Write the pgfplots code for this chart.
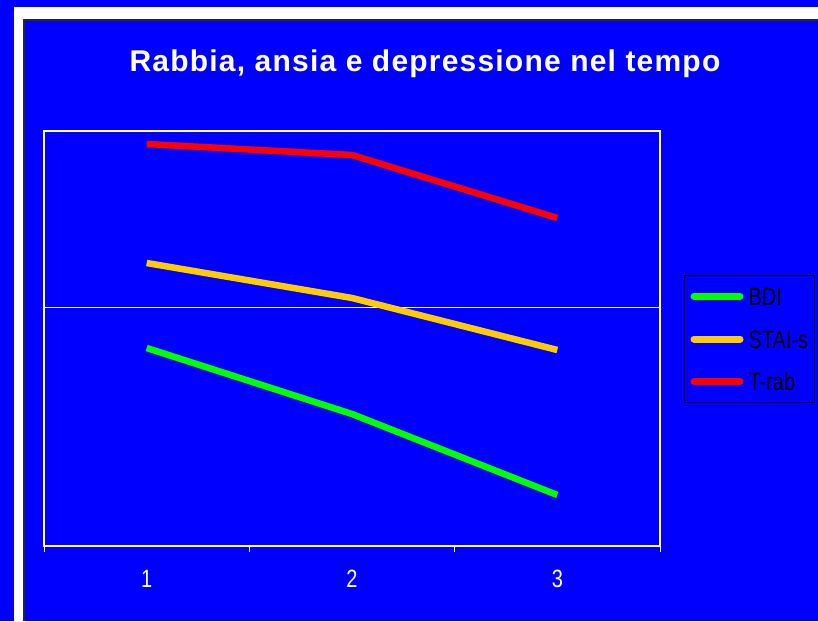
\documentclass[border=0pt]{standalone}
\usepackage{pgfplots}
\pgfplotsset{compat=1.18}
\usepackage{fontspec}
\setmainfont{Liberation Sans}
\newfontfamily\titlefont[LetterSpace=4]{Liberation Sans}
\newfontfamily\narrowfont[FakeStretch=0.8]{Liberation Sans}

\definecolor{bgblue}{RGB}{0,0,255}
\definecolor{bdigreen}{RGB}{0,255,0}
\definecolor{staiorange}{RGB}{255,204,0}
\definecolor{trabred}{RGB}{255,0,0}

\begin{document}
\begin{tikzpicture}[x=1pt,y=1pt]
% page background and frame
\fill[bgblue] (0,0) rectangle (818,621);
\fill[white] (14,0) rectangle (818,614);
\fill[bgblue] (24,0) rectangle (818,601);
\draw[black!85, line width=1.5pt] (24,0) -- (24,601) -- (818,601);

\node[font=\titlefont\bfseries\fontsize{30}{36}\selectfont, text=white, anchor=base]
  at (425,549) {Rabbia, ansia e depressione nel tempo};

\begin{axis}[
  at={(44pt,75pt)}, anchor=south west,
  width=616pt, height=415pt, scale only axis,
  xmin=0.5, xmax=3.5, ymin=0, ymax=415,
  axis line style={white, line width=1.5pt},
  xtick={0.5,1.5,2.5,3.5},
  x tick label as interval,
  xticklabels={1,2,3},
  xtick pos=bottom,
  tick align=outside,
  major tick length=6pt,
  xtick style={white, line width=1pt},
  ytick={239}, yticklabels={},
  ytick style={draw=none},
  ymajorgrids,
  grid style={white, line width=0.9pt},
  x tick label style={font=\narrowfont\fontsize{25}{30}\selectfont, text=white, yshift=-15pt},
  /pgf/number format/assume math mode=true,
  legend style={
    at={(1.039,0.653)}, anchor=north west,
    draw=black, line width=1pt, fill=bgblue, text=black,
    font=\narrowfont\fontsize{25}{30}\selectfont,
    inner xsep=6pt, inner ysep=12pt, row sep=24.5pt,
    nodes={inner sep=0pt, text height=18pt, text depth=0pt, anchor=west},
  },
  legend cell align=left,
  legend image code/.code={
    \draw[#1, line width=7pt, line cap=round] (3pt,0pt) -- (49pt,0pt);
  },
]
\addplot[bdigreen, line width=6.5pt, line join=round] coordinates {(1,198) (2,132) (3,51)};
\addlegendentry{\hspace{5pt}BDI}
\addplot[staiorange, line width=6.5pt, line join=round] coordinates {(1,283) (2,248) (3,196)};
\addlegendentry{\hspace{5pt}STAI-s}
\addplot[trabred, line width=6.5pt, line join=round] coordinates {(1,402) (2,391) (3,328)};
\addlegendentry{\hspace{5pt}T-rab}
\end{axis}
\pgfresetboundingbox
\useasboundingbox (0,0) rectangle (818,621);
\end{tikzpicture}
\end{document}
